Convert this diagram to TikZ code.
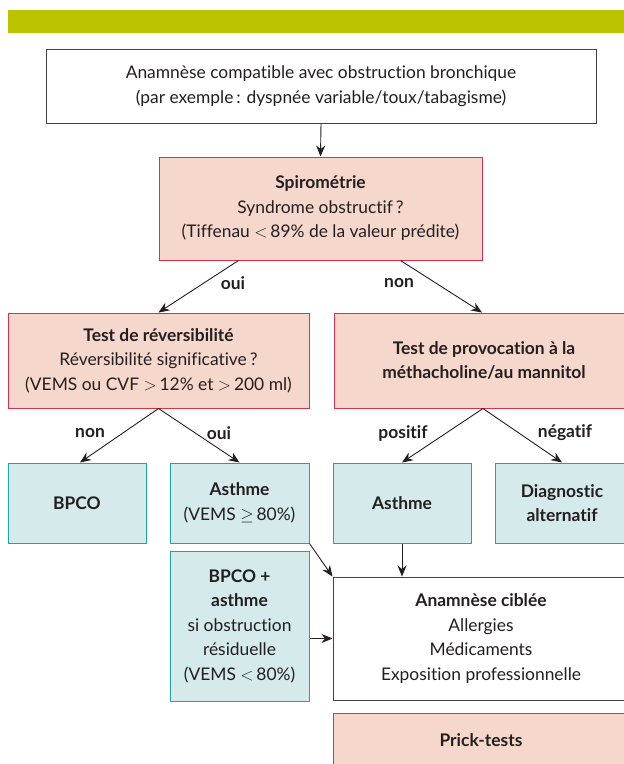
\documentclass[tikz,border=0pt]{standalone}
\usepackage{fontspec}
\setmainfont{Lato}[Ligatures={NoCommon}]
\usetikzlibrary{arrows.meta,calc}
\definecolor{barg}{HTML}{BCC400}
\definecolor{pinkf}{HTML}{F6D7CC}
\definecolor{redb}{HTML}{D8314B}
\definecolor{bluef}{HTML}{D5EAEA}
\definecolor{tealb}{HTML}{1FA3A8}
\definecolor{darkl}{HTML}{231F20}
\tikzset{
  bx/.style={inner sep=0pt, align=center, font=\fontsize{17.4}{24.5}\selectfont, text=darkl},
  whitebox/.style={bx, draw=darkl!85, line width=1pt, fill=white},
  pinkbox/.style={bx, draw=redb, line width=1pt, fill=pinkf},
  bluebox/.style={bx, draw=tealb, line width=1pt, fill=bluef},
  arr/.style={draw=darkl, line width=0.9pt, -{Stealth[length=11pt,width=9pt]}},
  lbl/.style={font=\fontsize{17.4}{20}\selectfont\bfseries, text=darkl},
}
\newcommand{\bxat}[7]{% name, style, x1,y1,x2,y2, text
  \node[#2, minimum width={(#5-#3)*1pt}, minimum height={(#6-#4)*1pt}] (#1) at ({(#3+#5)/2},{-(#4+#6)/2}) {#7};}
\begin{document}
\begin{tikzpicture}[x=1pt,y=1pt]
\useasboundingbox (0,0) rectangle (624,-764);
\clip (0,0) rectangle (624,-764);
\fill[barg] (8,-10) rectangle (630,-33);
\bxat{top}{whitebox}{46}{49}{596}{123}{Anamnèse compatible avec obstruction bronchique\\(par exemple\,: dyspnée variable/toux/tabagisme)}
\bxat{spiro}{pinkbox}{159}{157}{482}{260}{\textbf{Spirométrie}\\Syndrome obstructif\,?\\(Tiffenau $<$\,89\% de la valeur prédite)}
\bxat{rev}{pinkbox}{8}{313}{309}{408}{\textbf{Test de réversibilité}\\Réversibilité significative\,?\\(VEMS ou CVF $>$\,12\% et $>$\,200 ml)}
\bxat{prov}{pinkbox}{334}{313}{634}{408}{\textbf{Test de provocation à la}\\\textbf{méthacholine/au mannitol}}
\bxat{bpco}{bluebox}{8}{463}{146}{543}{\textbf{BPCO}}
\bxat{asthA}{bluebox}{170}{463}{309}{543}{\textbf{Asthme}\\(VEMS $\geq$\,80\%)}
\bxat{asthB}{bluebox}{333}{463}{471}{543}{\textbf{Asthme}}
\bxat{diag}{bluebox}{495}{463}{629}{543}{\textbf{Diagnostic}\\\textbf{alternatif}}
\bxat{mixed}{bluebox}{170}{551}{309}{701}{\textbf{BPCO +}\\\textbf{asthme}\\si obstruction\\résiduelle\\(VEMS $<$\,80\%)}
\bxat{anam}{whitebox}{333}{577}{629}{700}{\textbf{Anamnèse ciblée}\\Allergies\\Médicaments\\Exposition professionnelle}
\bxat{prick}{pinkbox}{333}{713}{629}{767}{\textbf{Prick-tests}}
\draw[arr] (top.south) -- (spiro.north);
\draw[arr] ([xshift=-82pt]spiro.south) -- (rev.north);
\draw[arr] ([xshift=80pt]spiro.south) -- ([xshift=-2pt]prov.north);
\draw[arr] (rev.south) -- ([xshift=3pt]bpco.north);
\draw[arr] (rev.south) -- (asthA.north);
\draw[arr] ([xshift=-1pt]prov.south) -- (asthB.north);
\draw[arr] ([xshift=-1pt]prov.south) -- (diag.north);
\draw[arr] (asthA.south east) -- (anam.north west);
\draw[arr] (asthB.south) -- (asthB.south |- anam.north);
\draw[arr] (anam.west -| mixed.east) -- (anam.west);
\node[lbl] (l1) at (233,-283) {oui};
\node[lbl] (l2) at (399,-283) {non};
\node[lbl] (l3) at (90,-433) {non};
\node[lbl] (l4) at (219,-433) {oui};
\node[lbl] (l5) at (403,-433) {positif};
\node[lbl] (l6) at (565,-433) {négatif};
\end{tikzpicture}
\end{document}
